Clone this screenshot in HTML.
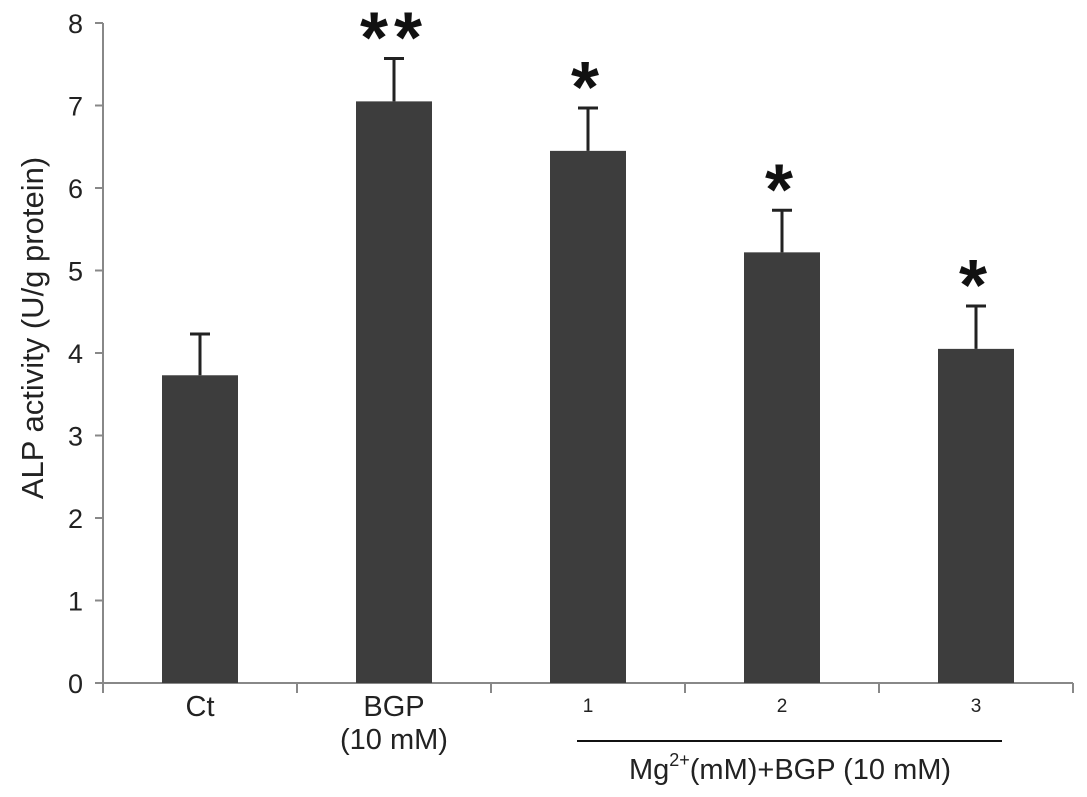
<!DOCTYPE html>
<html><head><meta charset="utf-8"><style>
body{margin:0;background:#fff}
svg{display:block;font-family:"Liberation Sans",Arial,sans-serif}
</style></head><body>
<svg width="1087" height="797">
<g id="axes"></g><g id="bars"></g>
<text transform="translate(43,328) rotate(-90)" text-anchor="middle" font-size="31" fill="#222">ALP activity (U/g protein)</text>
<line x1="577" y1="741" x2="1002" y2="741" stroke="#111" stroke-width="2"/>
<text x="790" y="779" text-anchor="middle" font-size="29" fill="#222">Mg<tspan font-size="18" dy="-13">2+</tspan><tspan dy="13">(mM)+BGP (10 mM)</tspan></text>
</svg>
<script>
const categories=["Ct","BGP","1","2","3"];
const values=[3.73,7.05,6.45,5.22,4.05];
const errors=[0.5,0.52,0.52,0.51,0.52];
const stars=["","**","*","*","*"];
const yTicks=[0,1,2,3,4,5,6,7,8];
const NS="http://www.w3.org/2000/svg";
const x0=103,x1=1073,band=194,y0=683,ppu=82.5;
const Y=v=>y0-v*ppu;
const X=i=>x0+band*(i+0.5);
function mk(t,a,p){const e=document.createElementNS(NS,t);for(const k in a)e.setAttribute(k,a[k]);p.appendChild(e);return e;}
const ax=document.getElementById('axes'),bg=document.getElementById('bars');
let l=mk('line',{x1:x0,y1:Y(0),x2:x0,y2:Y(8),stroke:'#888','stroke-width':2},ax);


l=mk('line',{x1:x0,y1:Y(0),x2:x1,y2:Y(0),stroke:'#888','stroke-width':2},ax);


yTicks.forEach(v=>{
 const t=mk('line',{x1:x0-8,y1:Y(v),x2:x0,y2:Y(v),stroke:'#888','stroke-width':2},ax);
 
 
 const tx=mk('text',{x:x0-20,y:Y(v)+10,'text-anchor':'end','font-size':27,fill:'#222'},ax);tx.textContent=v;
 
 
});
for(let i=0;i<=categories.length;i++){
 const t=mk('line',{x1:x0+band*i,y1:Y(0),x2:x0+band*i,y2:Y(0)+10,stroke:'#888','stroke-width':2},ax);
 
 
}
categories.forEach((c,i)=>{
 const cx=X(i),w=76,v=values[i];
 const r=mk('rect',{x:cx-w/2,y:Y(v),width:w,height:Y(0)-Y(v),fill:'#3d3d3d'},bg);
 
 
 const e=mk('path',{d:`M${cx},${Y(v)}V${Y(v+errors[i])}M${cx-10},${Y(v+errors[i])}H${cx+10}`,stroke:'#222','stroke-width':3,fill:'none'},bg);
 
 
 if(stars[i]){
  const s=mk('text',{x:cx,y:Y(v+errors[i])+4,'text-anchor':'middle','font-size':72,'font-weight':'bold',fill:'#111'},bg);
  s.textContent=stars[i];
  s.setAttribute('letter-spacing','6');
  
  
 }
 let lab;
 if(i<2){
  lab=mk('text',{x:cx,y:716,'text-anchor':'middle','font-size':29,fill:'#222'},bg);
  lab.textContent=c;
  if(i===1){const s2=mk('text',{x:cx,y:749,'text-anchor':'middle','font-size':29,fill:'#222'},bg);s2.textContent='(10 mM)';
   
   }
 }else{
  lab=mk('text',{x:cx,y:712,'text-anchor':'middle','font-size':19,fill:'#222'},bg);lab.textContent=c;
 }
 
 
});
</script>
</body></html>
